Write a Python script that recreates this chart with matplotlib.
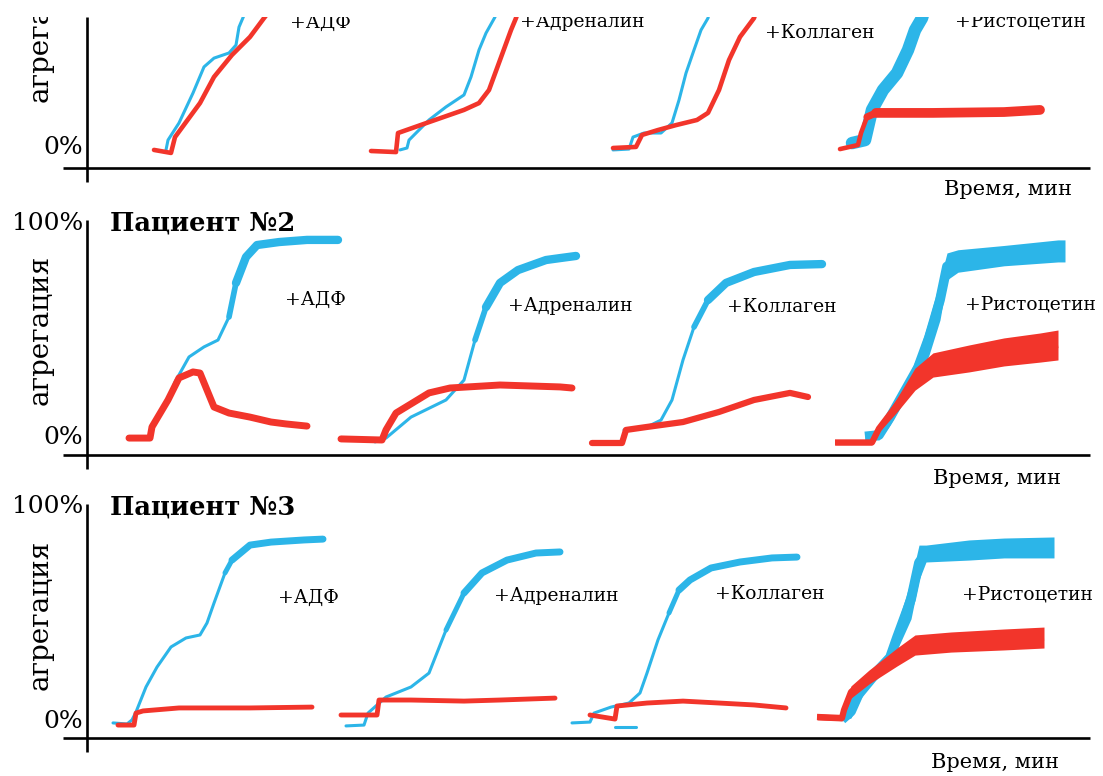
import numpy as np
import matplotlib.pyplot as plt
from matplotlib.transforms import Bbox, TransformedBbox

plt.rcParams['font.family'] = ['DejaVu Serif']

BLUE = '#2cb5e8'
RED = '#f2352b'

agonists = ['+АДФ', '+Адреналин', '+Коллаген', '+Ристоцетин']
patients = ['', 'Пациент №2', 'Пациент №3']

# --- patient 1 (top panel, cut off at the top) ---
p1_blue_t = [
    [79, 81, 92, 106, 117, 127, 142, 149, 152, 158, 162],
    [313, 320, 322, 342, 359, 377, 384, 392, 399, 408, 415],
    [526, 542, 546, 557, 574, 585, 592, 599, 607, 614, 621, 626],
    [765, 778, 785, 796, 810, 821, 828, 835, 842],
]
p1_blue_v = [
    [-0.9, 3.7, 11.7, 25.7, 37.9, 42, 44.4, 48.1, 56.5, 63.1, 72],
    [-0.9, 0, 3.7, 13.1, 19.2, 24.8, 33.2, 45.8, 53.7, 61.2, 72],
    [-0.9, -0.5, 5.1, 7, 7, 11.7, 22.4, 35, 45.8, 55.1, 60.7, 72],
    [2.3, 3.7, 17.8, 27.1, 35, 45.8, 55.1, 60.7, 72],
]
p1_red_t = [
    [67, 84, 88, 113, 127, 145, 163, 177, 181, 190],
    [284, 309, 311, 342, 377, 392, 402, 413, 424, 429, 437],
    [526, 549, 555, 571, 589, 610, 621, 632, 642, 653, 667, 675],
    [753, 771, 774, 780, 789, 846, 917, 953],
]
p1_red_v = [
    [-0.9, -2.3, 5.1, 21, 33.2, 43.5, 51.9, 60.7, 63.1, 72],
    [-1.4, -1.9, 7, 12.1, 17.8, 21, 27.1, 41.1, 55.1, 60.7, 72],
    [0, 0.5, 6.1, 8.4, 10.7, 13.1, 16.4, 27.1, 41.1, 51.9, 60.7, 72],
    [-0.5, 1.4, 7, 14.5, 16.4, 16.4, 16.8, 17.8],
]

# --- patient 2 ---
p2_blue_t = [
    [65, 81, 88, 102, 117, 131, 142, 149, 159, 170, 192, 220, 251],
    [288, 299, 324, 359, 377, 388, 399, 413, 431, 459, 473, 489],
    [537, 560, 574, 585, 596, 607, 621, 639, 667, 703, 735],
]
p2_blue_v = [
    [4.7, 17.3, 25.7, 37.4, 42.1, 45.3, 56.1, 72, 84.1, 89.7, 91.1, 92.1, 92.1],
    [-2.3, -0.5, 9.3, 17.3, 26.6, 45.3, 60.7, 72, 78, 82.7, 83.6, 84.6],
    [3.3, 4.7, 7.9, 17.3, 36, 51.4, 64, 72, 77.1, 80.4, 80.8],
]
p2_red_t = [
    [42, 63, 65, 81, 92, 106, 113, 127, 142, 163, 184, 199, 220],
    [254, 295, 299, 309, 342, 363, 413, 473, 485],
    [505, 535, 539, 560, 596, 632, 667, 703, 721],
]
p2_red_v = [
    [-0.5, -0.5, 4.7, 17.3, 27.6, 30.4, 29.9, 14, 11.2, 9.3, 7, 6.1, 5.1],
    [-0.9, -1.4, 3.3, 11.2, 20.6, 22.9, 24.3, 23.4, 22.9],
    [-2.8, -2.8, 3.3, 4.7, 7, 11.7, 17.3, 20.6, 18.7],
]
p2_risto_blue_t = [778, 792, 803, 817, 831, 842, 853, 860, 871, 917, 971, 978]
p2_risto_blue_hi = [1.9, 3.3, 12.6, 24.3, 38.3, 54.7, 73.4, 86, 87.5, 89.5, 92.1, 92.1]
p2_risto_blue_lo = [-1.4, -1.4, 5.6, 17.3, 26.6, 38.3, 54.7, 73.4, 77, 80, 81.8, 81.8]
p2_risto_red_t = [748, 785, 792, 810, 828, 846, 882, 917, 953, 971]
p2_risto_red_hi = [-1.4, -1.4, 5.6, 18.2, 32.2, 39.3, 43, 46.3, 48.6, 50]
p2_risto_red_lo = [-3.7, -3.7, 2.3, 11.7, 21.9, 28, 30.4, 33.2, 35, 36]

# --- patient 3 ---
p3_blue_t = [
    [26, 40, 45, 49, 59, 70, 84, 99, 113, 120, 127, 138, 145, 163, 184, 217, 236],
    [259, 277, 281, 299, 324, 342, 359, 377, 395, 420, 449, 473],
    [485, 503, 507, 524, 542, 553, 560, 571, 582, 592, 603, 624, 653, 685, 710],
]
p3_blue_v = [
    [-0.9, -1.4, 0.5, 4.2, 15.9, 25.2, 34.6, 38.8, 40.2, 45.8, 55.1, 69.2, 75.2, 82.2, 83.6, 84.6, 85],
    [-2.3, -1.9, 3.7, 11.2, 15.9, 22.4, 42.5, 59.8, 69.2, 75.2, 78.5, 79],
    [-0.9, -0.5, 3.7, 6.5, 8.4, 13.1, 22.4, 37.9, 50.5, 61.2, 65.9, 71.5, 74.3, 76.2, 76.6],
]
p3_blue_dash_t = [528, 549]
p3_blue_dash_v = [-2.8, -2.8]
p3_red_t = [
    [31, 47, 49, 56, 92, 163, 225],
    [254, 290, 292, 324, 377, 413, 468],
    [503, 528, 530, 560, 596, 632, 667, 699],
]
p3_red_v = [
    [-1.9, -1.9, 3.7, 4.7, 6.1, 6.1, 6.5],
    [2.8, 2.8, 9.8, 9.8, 9.3, 9.8, 10.7],
    [2.8, 0.9, 7, 8.4, 9.3, 8.4, 7.5, 6.1],
]
p3_risto_blue_t = [755, 764, 774, 789, 803, 810, 824, 832, 839, 882, 917, 967]
p3_risto_blue_hi = [1.4, 7.5, 19.2, 26.2, 33.2, 44.9, 65.9, 82.2, 82.2, 84.6, 85.5, 86]
p3_risto_blue_lo = [0, 1.4, 10.7, 19.2, 26.2, 33.2, 47.7, 65.9, 74.3, 75.2, 76.2, 76.2]
p3_risto_red_t = [730, 755, 757, 764, 782, 810, 828, 864, 917, 957]
p3_risto_red_hi = [3.3, 2.8, 7.5, 16.4, 23.8, 34.1, 40.2, 41.6, 43, 43.9]
p3_risto_red_lo = [0.5, 0, 2.8, 10.7, 17.3, 25.7, 30.8, 32.2, 33.2, 34.1]

# label positions (time, %)
p1_lab = [(203, 58.4), (433, 58.9), (678, 53.7), (868, 58.9)]
p2_lab = [(198, 64), (421, 61.2), (640, 60.7), (878, 61.7)]
p3_lab = [(191, 57.5), (407, 58.4), (628, 59.3), (875, 59.3)]


def trace(ax, t, v, color, lw, tail=0, lw_tail=6, z=2):
    ax.plot(t, v, color=color, lw=lw, solid_joinstyle='round',
            solid_capstyle='round', zorder=z)
    if tail:
        # curve gets noisier (thicker) on the plateau
        ax.plot(t[-tail - 1:], v[-tail - 1:], color=color,
                lw=(lw + lw_tail) / 2, solid_joinstyle='round',
                solid_capstyle='round', zorder=z)
        ax.plot(t[-tail:], v[-tail:], color=color, lw=lw_tail,
                solid_joinstyle='round', solid_capstyle='round', zorder=z)


def band(ax, t, hi, lo, color, lw, z=2):
    hi = np.array(hi)
    lo = np.array(lo)
    ax.fill_between(t, lo, hi, color=color, lw=0, zorder=z)
    ax.plot(t, (hi + lo) / 2, color=color, lw=lw, solid_capstyle='butt',
            solid_joinstyle='round', zorder=z)


W, H = 1103, 776
SCALE = 2.14  # px per percent
CUT = 17      # the scan is blank above this row
fig = plt.figure(figsize=(W / 100, H / 100), dpi=100)
cut_box = TransformedBbox(Bbox([[0, 0], [1, 1 - CUT / H]]), fig.transFigure)

# (x-axis line px, 0% px, top px)
panels = [(168, 148, CUT), (455, 437, 223), (738, 721, 507)]
xlabel_pos = [(921, -19.6), (910, -19.2), (908, -19.2)]
ylabel_y = [56.5, 50, 49.5]
label_pos = [p1_lab, p2_lab, p3_lab]

axes = []
for i, (base, zero, top) in enumerate(panels):
    ax = fig.add_axes([87 / W, 1 - base / H, 1003 / W, (base - top) / H])
    ymin = (zero - base) / SCALE
    ymax = (zero - top) / SCALE
    ax.set_xlim(0, 1003)
    ax.set_ylim(ymin, ymax)
    ax.axis('off')
    # axes cross
    ax.plot([-24, 1003], [ymin, ymin], color='black', lw=1.9, clip_on=False,
            solid_capstyle='butt')
    vtop = ymax + (3 / SCALE if i > 0 else 0)
    ax.plot([0, 0], [ymin - 14 / SCALE, vtop], color='black', lw=1.9,
            clip_on=False, solid_capstyle='butt')
    texts = [ax.text(-4, 0, '0%', ha='right', va='center', fontsize=18)]
    if i > 0:
        ax.text(-4, 100, '100%', ha='right', va='center', fontsize=18)
        ax.text(23, 100, patients[i], ha='left', va='center', fontsize=18.5,
                fontweight='bold')
    texts.append(ax.text(-47, ylabel_y[i], 'агрегация', rotation=90,
                         ha='center', va='center', fontsize=20))
    ax.text(xlabel_pos[i][0], xlabel_pos[i][1], 'Время, мин', ha='center',
            va='center', fontsize=15)
    for name, (lx, ly) in zip(agonists, label_pos[i]):
        texts.append(ax.text(lx, ly, name, ha='left', va='center',
                             fontsize=13.5))
    if i == 0:
        for tx in texts:
            tx.set_clip_box(cut_box)
            tx.set_clip_on(True)
    axes.append(ax)

ax1, ax2, ax3 = axes

# patient 1
for k in range(4):
    trace(ax1, p1_blue_t[k], p1_blue_v[k], BLUE, 9 if k == 3 else 2.2)
    trace(ax1, p1_red_t[k], p1_red_v[k], RED, 3.3, tail=4 if k == 3 else 0,
          lw_tail=7, z=3)

# patient 2
p2_blue_tail = [6, 6, 5]
p2_red_lw = [5, 5, 4.5]
for k in range(3):
    trace(ax2, p2_blue_t[k], p2_blue_v[k], BLUE, 2.2, tail=p2_blue_tail[k])
    trace(ax2, p2_red_t[k], p2_red_v[k], RED, p2_red_lw[k], z=3)
band(ax2, p2_risto_blue_t, p2_risto_blue_hi, p2_risto_blue_lo, BLUE, 7)
band(ax2, p2_risto_red_t, p2_risto_red_hi, p2_risto_red_lo, RED, 4.5, z=3)

# patient 3
p3_blue_tail = [5, 5, 6]
for k in range(3):
    trace(ax3, p3_blue_t[k], p3_blue_v[k], BLUE, 2.2, tail=p3_blue_tail[k],
          lw_tail=5)
    trace(ax3, p3_red_t[k], p3_red_v[k], RED, 3.5, z=3)
trace(ax3, p3_blue_dash_t, p3_blue_dash_v, BLUE, 2.2)
band(ax3, p3_risto_blue_t, p3_risto_blue_hi, p3_risto_blue_lo, BLUE, 7)
band(ax3, p3_risto_red_t, p3_risto_red_hi, p3_risto_red_lo, RED, 4.5, z=3)

plt.savefig('out.png', dpi=100)
